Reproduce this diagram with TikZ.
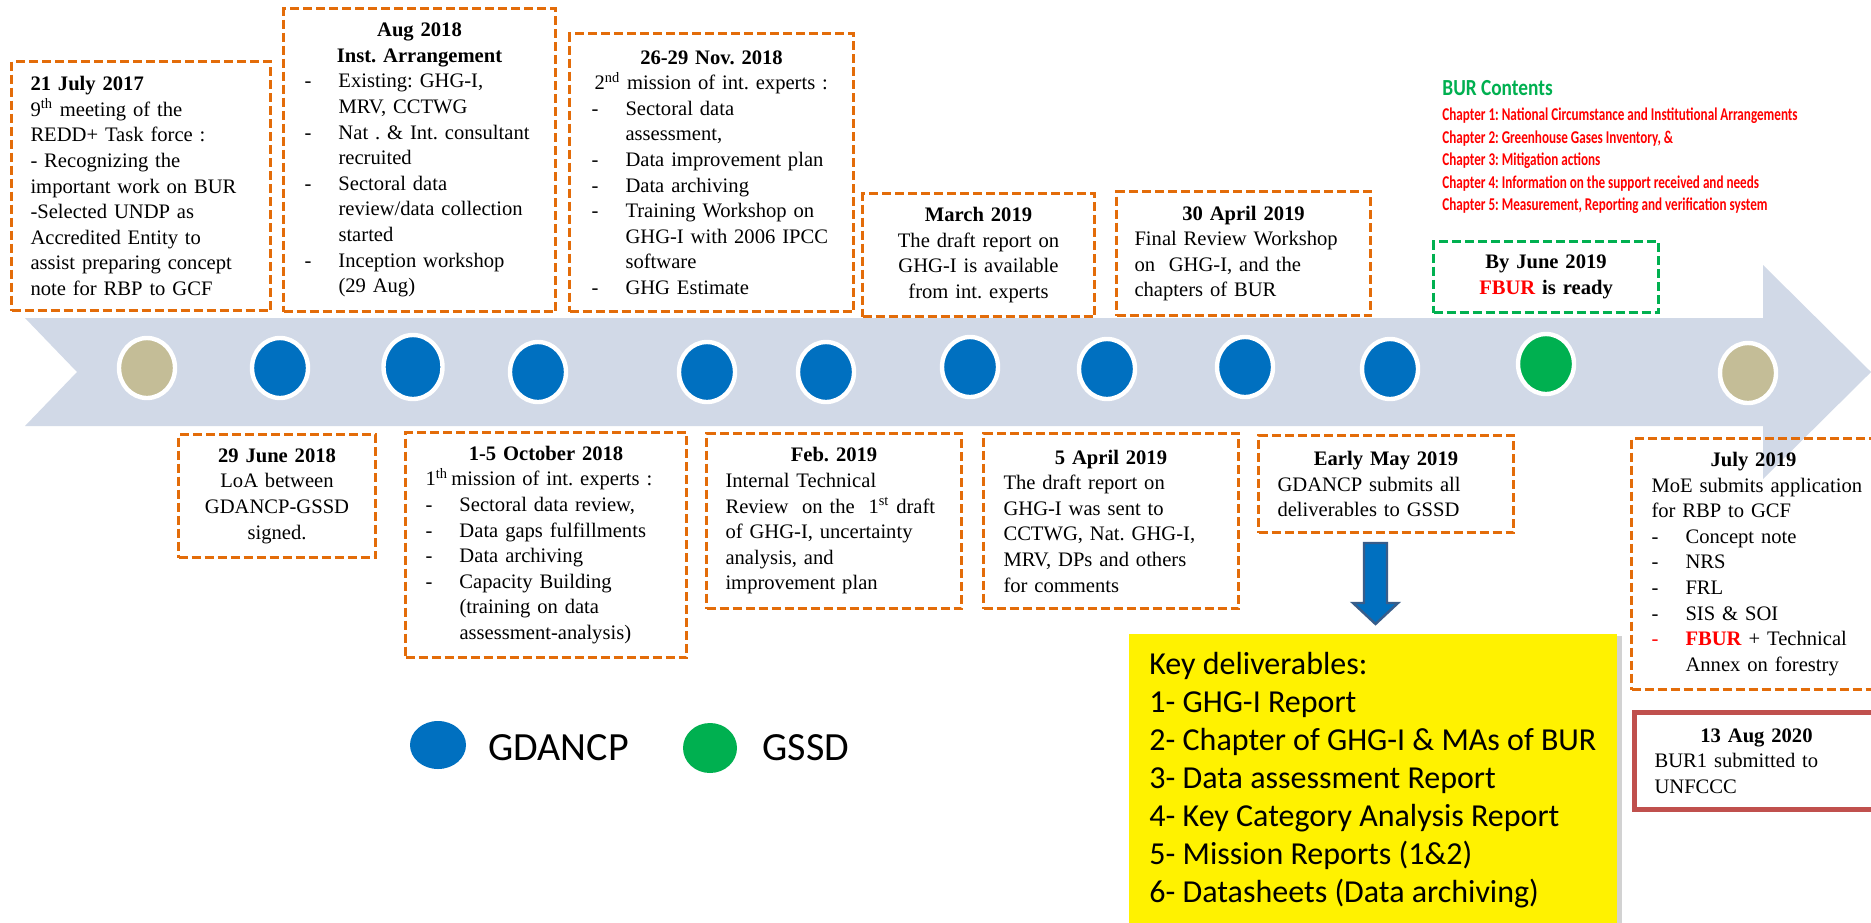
\documentclass[tikz,border=0pt]{standalone}
\usepackage{fontspec}
\setmainfont{Liberation Serif}
\newfontfamily\carl{Carlito}
\newfontfamily\burf[FakeStretch=0.84]{Carlito}
\newfontfamily\burc[FakeStretch=0.73]{Carlito}
\usetikzlibrary{shapes.geometric,shadows}
\definecolor{dashor}{HTML}{E36C09}
\definecolor{bandC}{HTML}{D1D9E7}
\definecolor{blueC}{HTML}{0070C0}
\definecolor{greenC}{HTML}{00B050}
\definecolor{tanC}{HTML}{C4BD97}
\definecolor{redbox}{HTML}{C0504D}
\definecolor{arrowbd}{HTML}{385D8A}
\definecolor{burred}{HTML}{FF0000}
\frenchspacing
\newcommand\dsh{\makebox[17pt][l]{-}}
\newcommand\bind{\hspace*{17pt}}
\newcommand\ctr[1]{\leavevmode\hbox to\hsize{\hfil#1\hfil}}
\newcommand\ctrs[1]{\leavevmode\hbox to\hsize{\hfil#1\hfil\hspace{10pt}}}
\newcommand\bodyf{\fontsize{10.3}{12.8}\selectfont\frenchspacing\hyphenpenalty=10000\exhyphenpenalty=10000}
\tikzset{
  evbox/.style={draw=dashor, line width=1.5pt, dash pattern=on 4.5pt off 2pt,
    anchor=north west, inner ysep=0pt, font=\bodyf, align=left},
  gbox/.style={evbox, draw=greenC},
  dot/.style={ellipse, draw=white, line width=2.2pt, minimum width=28pt,
    minimum height=30pt, inner sep=0pt},
  legdot/.style={ellipse, minimum width=28pt, minimum height=24pt, inner sep=0pt},
  legtxt/.style={anchor=base west, inner sep=0pt, font=\carl\fontsize{20}{24}\selectfont},
  chap/.style={anchor=base west, inner sep=0pt, text=burred, font=\burc\bfseries\fontsize{9}{10}\selectfont},
}
\begin{document}
\begin{tikzpicture}[x=0.5pt,y=-0.5pt]
\useasboundingbox (0,0) rectangle (1871,922);
\fill[white] (0,0) rectangle (1871,922);
% timeline band
\fill[bandC] (25,318) -- (1763,318) -- (1763,265) -- (1871,372) -- (1763,479)
  -- (1763,426) -- (25,426) -- (77,372) -- cycle;
% dots
\node[dot, fill=tanC] (c1) at (147,368) {};
\node[dot, fill=blueC] (c2) at (280,368) {};
\node[dot, fill=blueC, minimum width=29.5pt, minimum height=32pt] (c3) at (413,367) {};
\node[dot, fill=blueC] (c4) at (538,372) {};
\node[dot, fill=blueC] (c5) at (707,372) {};
\node[dot, fill=blueC] (c6) at (826,372) {};
\node[dot, fill=blueC] (c7) at (970,367) {};
\node[dot, fill=blueC] (c8) at (1107,369) {};
\node[dot, fill=blueC] (c9) at (1245,367) {};
\node[dot, fill=blueC] (c10) at (1390,369) {};
\node[dot, fill=greenC] (c11) at (1546,364) {};
\node[dot, fill=tanC] (c12) at (1748,373) {};

% top boxes
\node[evbox, minimum width=129.5pt, minimum height=124.5pt, inner xsep=9.5pt, text width=110.5pt] (A) at (10,60) {%
\textbf{21 July 2017}\\
9\textsuperscript{th} meeting of the\\
REDD+ Task force :\\
- Recognizing the\\
important work on BUR\\
-Selected UNDP as\\
Accredited Entity to\\
assist preparing concept\\
note for RBP to GCF};

\node[evbox, minimum width=136pt, minimum height=151.5pt, inner xsep=10.5pt, text width=115pt] (B) at (282,7) {%
\ctr{\textbf{Aug 2018}}\\
\ctr{\textbf{Inst. Arrangement}}\\
\dsh Existing: GHG-I,\\
\bind MRV, CCTWG\\
\dsh Nat . \& Int. consultant\\
\bind recruited\\
\dsh Sectoral data\\
\bind review/data collection\\
\bind started\\
\dsh Inception workshop\\
\bind (29 Aug)};

\node[evbox, minimum width=142pt, minimum height=139pt, inner xsep=11pt, text width=120pt] (C) at (568,32) {%
\ctr{\textbf{26-29 Nov. 2018}}\\
\hspace*{1.5pt}2\textsuperscript{nd} mission of int. experts :\\
\dsh Sectoral data\\
\bind assessment,\\
\dsh Data improvement plan\\
\dsh Data archiving\\
\dsh Training Workshop on\\
\bind GHG-I with 2006 IPCC\\
\bind software\\
\dsh GHG Estimate};

\node[evbox, align=center, minimum width=116pt, minimum height=61.5pt, inner xsep=4pt, text width=108pt] (D) at (861,192) {%
\textbf{March 2019}\\
The draft report on\\
GHG-I is available\\
from int. experts};

\node[evbox, minimum width=127pt, minimum height=62pt, inner xsep=9pt, text width=109pt] (E) at (1115,190) {%
\ctr{\textbf{30 April 2019}}\\
Final Review Workshop\\
on\ \ GHG-I, and the\\
chapters of BUR};

\node[gbox, align=center, minimum width=112.5pt, minimum height=35.5pt, inner xsep=4pt, text width=104.5pt] (F) at (1432,240) {%
\textbf{By June 2019}\\
\textbf{\textcolor{burred}{FBUR} is ready}};

% BUR contents
\node[anchor=base west, inner sep=0pt, text=greenC, font=\burf\bfseries\fontsize{11.5}{13}\selectfont] (burt) at (1442,95) {BUR Contents};
\node[chap] (ch1) at (1442,120) {Chapter 1: National Circumstance and Institutional Arrangements};
\node[chap] (ch2) at (1442,143) {Chapter 2: Greenhouse Gases Inventory, \&};
\node[chap] (ch3) at (1442,165) {Chapter 3: Mitigation actions};
\node[chap] (ch4) at (1442,188) {Chapter 4: Information on the support received and needs};
\node[chap] (ch5) at (1442,210) {Chapter 5: Measurement, Reporting and verification system};

% bottom boxes
\node[evbox, align=center, minimum width=98.5pt, minimum height=61.5pt, inner xsep=3pt, text width=92.5pt] (G) at (177,433) {%
\textbf{29 June 2018}\\
LoA between\\
GDANCP-GSSD\\
signed.};

\node[evbox, minimum width=140.5pt, minimum height=112.5pt, inner xsep=10pt, text width=120.5pt] (H) at (404,431) {%
\ctr{\textbf{1-5 October 2018}}\\
1\textsuperscript{th}\,mission of int. experts :\\
\dsh Sectoral data review,\\
\dsh Data gaps fulfillments\\
\dsh Data archiving\\
\dsh Capacity Building\\
\bind (training on data\\
\bind assessment-analysis)};

\node[evbox, minimum width=127.5pt, minimum height=87.5pt, inner xsep=9.5pt, text width=108.5pt] (I) at (705,432) {%
\ctr{\textbf{Feb. 2019}}\\
Internal Technical\\
Review\ \ on the\ \ 1\textsuperscript{st} draft\\
of GHG-I, uncertainty\\
analysis, and\\
improvement plan};

\node[evbox, minimum width=127.5pt, minimum height=87.5pt, inner xsep=10pt, text width=107.5pt] (J) at (982,432) {%
\ctr{\textbf{5 April 2019}}\\
The draft report on\\
GHG-I was sent to\\
CCTWG, Nat. GHG-I,\\
MRV, DPs and others\\
for comments};

\node[evbox, minimum width=127.5pt, minimum height=48.5pt, inner xsep=9.5pt, text width=108.5pt] (K) at (1257,434) {%
\ctr{\textbf{Early May 2019}}\\
GDANCP submits all\\
deliverables to GSSD};

\node[evbox, minimum width=132pt, minimum height=125.5pt, inner xsep=10pt, text width=112pt] (L) at (1630,437) {%
\ctrs{\textbf{July 2019}}\\
MoE submits application\\
for RBP to GCF\\
\dsh Concept note\\
\dsh NRS\\
\dsh FRL\\
\dsh SIS \& SOI\\
\makebox[17pt][l]{\textcolor{burred}{-}}\textcolor{burred}{\textbf{FBUR}} + Technical\\
\bind Annex on forestry};

\node[evbox, draw=redbox, solid, line width=2.5pt, minimum width=132pt, minimum height=48.5pt, inner xsep=10pt, text width=112pt] (M) at (1632,710) {%
\ctrs{\textbf{13 Aug 2020}}\\
BUR1 submitted to\\
UNFCCC};

% yellow deliverables box
\node[fill=yellow, anchor=north west, inner sep=0pt, minimum width=244pt, minimum height=160pt,
  drop shadow={shadow xshift=2.5pt, shadow yshift=-1pt, opacity=0.35}] (Y) at (1129,634) {};
\node[anchor=north west, inner sep=0pt, align=left, font=\carl\fontsize{16}{19}\selectfont] (Yt) at (1149,652) {%
Key deliverables:\\
1- GHG-I Report\\
2- Chapter of GHG-I \& MAs of BUR\\
3- Data assessment Report\\
4- Key Category Analysis Report\\
5- Mission Reports (1\&2)\\
6- Datasheets (Data archiving)};

% block arrow from K to Y
\draw[draw=arrowbd, fill=blueC, line width=1.2pt, line join=miter]
  (1364,543) -- (1387,543) -- (1387,603) -- (1398,603) -- (1375.5,624)
  -- (1353,603) -- (1364,603) -- cycle;

% legend
\node[legdot, fill=blueC] (lg1) at (438,745) {};
\node[legtxt] (lg1t) at (488,760) {GDANCP};
\node[legdot, fill=greenC, minimum width=27pt, minimum height=25pt] (lg2) at (710,748) {};
\node[legtxt] (lg2t) at (762,760) {GSSD};
\end{tikzpicture}
\end{document}
